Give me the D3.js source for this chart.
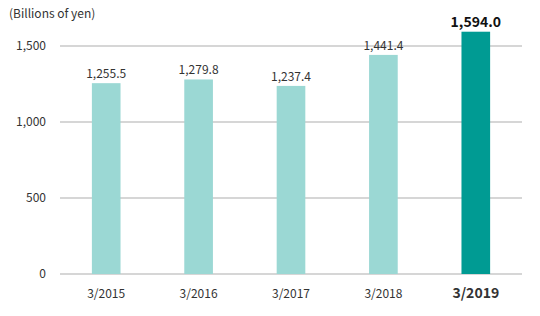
<!DOCTYPE html>
<html>
<head>
<meta charset="utf-8">
<script src="https://cdn.jsdelivr.net/npm/d3@7"></script>
<style>
  body { margin: 0; background: #fff; }
  svg text { font-family: "Noto Sans CJK JP", "Noto Sans", sans-serif; fill: #333; }
</style>
</head>
<body>
<div id="chart"></div>
<script>
// data
const years = ["3/2015", "3/2016", "3/2017", "3/2018", "3/2019"];
const sales = [1255.5, 1279.8, 1237.4, 1441.4, 1594.0];
const yTicks = [0, 500, 1000, 1500];
const highlight = "3/2019";

const width = 540, height = 316;
const margin = { top: 46, right: 18, bottom: 42, left: 60 };

const svg = d3.select("#chart").append("svg")
    .attr("width", width)
    .attr("height", height);

const x = d3.scaleBand()
    .domain(years)
    .range([margin.left, width - margin.right])
    .padding(0);

const y = d3.scaleLinear()
    .domain([0, 1500])
    .range([height - margin.bottom, margin.top]);

const barW = x.bandwidth() * 0.31;

// gridlines + y labels
const grid = svg.append("g");
grid.selectAll("line")
    .data(yTicks)
    .enter().append("line")
    .attr("x1", margin.left)
    .attr("x2", width - margin.right)
    .attr("y1", d => y(d))
    .attr("y2", d => y(d))
    .attr("stroke", "#d6d6d6")
    .attr("stroke-width", 2);

grid.selectAll("text")
    .data(yTicks)
    .enter().append("text")
    .attr("x", 46)
    .attr("y", d => y(d) + 4)
    .attr("text-anchor", "end")
    .style("font-size", "12px")
    .text(d => d3.format(",")(d));

svg.append("text")
    .attr("x", 9)
    .attr("y", 18)
    .style("font-size", "12px")
    .text("(Billions of yen)");

// bars
svg.append("g").selectAll("rect")
    .data(years)
    .enter().append("rect")
    .attr("x", d => x(d) + x.bandwidth() / 2 - barW / 2)
    .attr("width", barW)
    .attr("y", (d, i) => y(sales[i]))
    .attr("height", (d, i) => y(0) - y(sales[i]))
    .attr("fill", d => d === highlight ? "#009b93" : "#9bd8d4");

// value labels
svg.append("g").selectAll("text")
    .data(years)
    .enter().append("text")
    .attr("x", d => x(d) + x.bandwidth() / 2)
    .attr("y", (d, i) => y(sales[i]) - 5)
    .attr("text-anchor", "middle")
    .style("font-size", d => d === highlight ? "14px" : "12px")
    .style("font-weight", d => d === highlight ? "bold" : "normal")
    .style("fill", d => d === highlight ? "#111" : "#333")
    .text((d, i) => d3.format(",.1f")(sales[i]));

// x labels
svg.append("g").selectAll("text")
    .data(years)
    .enter().append("text")
    .attr("x", d => x(d) + x.bandwidth() / 2)
    .attr("y", 298)
    .attr("text-anchor", "middle")
    .style("font-size", d => d === highlight ? "14px" : "12px")
    .style("font-weight", d => d === highlight ? "bold" : "normal")
    .text(d => d);
</script>
</body>
</html>
